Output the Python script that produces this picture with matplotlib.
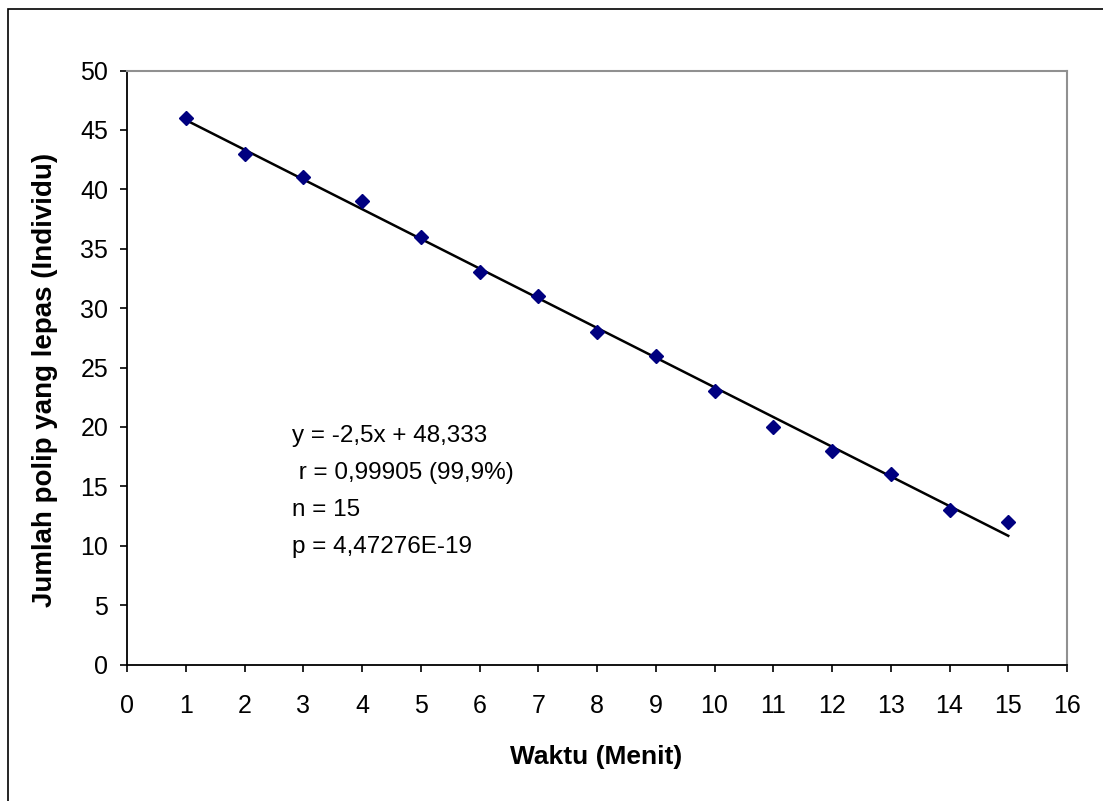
import numpy as np
import matplotlib
matplotlib.use("Agg")
import matplotlib.pyplot as plt
from matplotlib.patches import Rectangle

plt.rcParams['font.family'] = ['Liberation Sans', 'DejaVu Sans']

waktu = [1, 2, 3, 4, 5, 6, 7, 8, 9, 10, 11, 12, 13, 14, 15]
polip = [46, 43, 41, 39, 36, 33, 31, 28, 26, 23, 20, 18, 16, 13, 12]
x_ticks = list(range(0, 17))
y_ticks = list(range(0, 51, 5))
stats_lines = ["y = -2,5x + 48,333", " r = 0,99905 (99,9%)", "n = 15", "p = 4,47276E-19"]

W, H = 1103, 801
fig = plt.figure(figsize=(W / 100, H / 100), dpi=100)
fig.patch.set_facecolor('white')

# outer chart border (only top/left visible in reference)
fig.add_artist(Rectangle((8 / W, -0.1), 1.2, 1 - 9 / H + 0.1, transform=fig.transFigure,
                         fill=False, edgecolor='black', lw=1.2))

ax = fig.add_axes([127 / W, 1 - 664.5 / H, (1067 - 127) / W, (664.5 - 70.5) / H])
ax.set_xlim(0, 16)
ax.set_ylim(0, 50)
ax.set_xticks(x_ticks)
ax.set_yticks(y_ticks)
ax.tick_params(direction='out', length=5, width=1.2, labelsize=18, color='black')
ax.tick_params(axis='y', pad=8.5)
ax.tick_params(axis='x', pad=16)

for s in ['left', 'bottom']:
    ax.spines[s].set_color('black')
    ax.spines[s].set_linewidth(1.3)
for s in ['top', 'right']:
    ax.spines[s].set_color('#909090')
    ax.spines[s].set_linewidth(1.5)

# trendline
xs = np.array(waktu, dtype=float)
ys = np.array(polip, dtype=float)
m, b = np.polyfit(xs, ys, 1)
xl = np.array([xs.min(), xs.max()])
ax.plot(xl, m * xl + b, color='black', lw=1.8, zorder=2)

ax.plot(waktu, polip, linestyle='none', marker='D', markersize=7.5,
        color='#000080', markeredgecolor='#000080', zorder=3)

fig.text(596 / W, 1 - 757 / H, 'Waktu (Menit)', fontsize=19, fontweight='bold',
         ha='center', va='center')
fig.text(45.5 / W, 1 - 380 / H, 'Jumlah polip yang lepas (Individu)', fontsize=20,
         fontweight='bold', ha='center', va='center', rotation=90)

y0 = 436
for i, line in enumerate(stats_lines):
    fig.text(292 / W, 1 - (y0 + i * 37) / H, line, fontsize=17.5, ha='left', va='center')

fig.savefig('out.png', dpi=100)
